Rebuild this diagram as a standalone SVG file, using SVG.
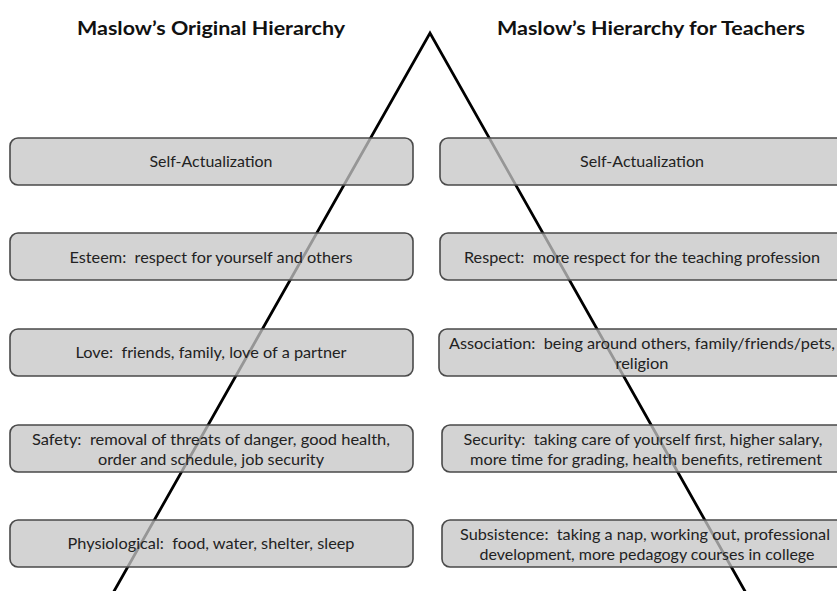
<svg xmlns="http://www.w3.org/2000/svg" width="837" height="591" viewBox="0 0 837 591">
<style>
text{white-space:pre}
.title{font-family:Lato,"Liberation Sans",sans-serif;font-weight:bold;font-size:19.5px;fill:#111;text-anchor:middle}
.box{fill:rgb(197,197,197);fill-opacity:0.76;stroke:#4a4a4a;stroke-width:1.6}
.lbl{font-family:Lato,"Liberation Sans",sans-serif;font-size:16px;fill:#222;text-anchor:middle}
.edge{fill:none;stroke:#000;stroke-width:2.8;stroke-linejoin:miter;stroke-miterlimit:20}
</style>
<rect width="837" height="591" fill="#fff"/>
<g id="titles">
<text class="title" x="211" y="35" textLength="268" lengthAdjust="spacingAndGlyphs">Maslow’s Original Hierarchy</text>
<text class="title" x="651" y="35" textLength="308" lengthAdjust="spacingAndGlyphs">Maslow’s Hierarchy for Teachers</text>
</g>
<g id="connectors">
<polyline class="edge" points="113,593 430,33 746,593"/>
</g>
<g id="left-self-actualization">
<rect class="box" x="10" y="138" width="403" height="47" rx="8"/>
<text class="lbl" x="211" y="167" textLength="123" lengthAdjust="spacingAndGlyphs">Self-Actualization</text>
</g>
<g id="left-esteem">
<rect class="box" x="10" y="233" width="403" height="47" rx="8"/>
<text class="lbl" x="211" y="263" textLength="283" lengthAdjust="spacingAndGlyphs">Esteem:  respect for yourself and others</text>
</g>
<g id="left-love">
<rect class="box" x="10" y="329" width="403" height="47" rx="8"/>
<text class="lbl" x="211" y="358" textLength="271" lengthAdjust="spacingAndGlyphs">Love:  friends, family, love of a partner</text>
</g>
<g id="left-safety">
<rect class="box" x="10" y="425" width="403" height="47" rx="8"/>
<text class="lbl" x="211" y="445" textLength="358" lengthAdjust="spacingAndGlyphs">Safety:  removal of threats of danger, good health,</text>
<text class="lbl" x="211" y="465" textLength="226" lengthAdjust="spacingAndGlyphs">order and schedule, job security</text>
</g>
<g id="left-physiological">
<rect class="box" x="10" y="520" width="403" height="47" rx="8"/>
<text class="lbl" x="211" y="549" textLength="287" lengthAdjust="spacingAndGlyphs">Physiological:  food, water, shelter, sleep</text>
</g>
<g id="right-self-actualization">
<rect class="box" x="440" y="138" width="404" height="47" rx="8"/>
<text class="lbl" x="642" y="167" textLength="124" lengthAdjust="spacingAndGlyphs">Self-Actualization</text>
</g>
<g id="right-respect">
<rect class="box" x="440" y="233" width="404" height="47" rx="8"/>
<text class="lbl" x="642" y="263" textLength="356" lengthAdjust="spacingAndGlyphs">Respect:  more respect for the teaching profession</text>
</g>
<g id="right-association">
<rect class="box" x="439" y="329" width="405" height="47" rx="8"/>
<text class="lbl" x="642" y="349" textLength="386" lengthAdjust="spacingAndGlyphs">Association:  being around others, family/friends/pets,</text>
<text class="lbl" x="642" y="369" textLength="53" lengthAdjust="spacingAndGlyphs">religion</text>
</g>
<g id="right-security">
<rect class="box" x="442" y="425" width="402" height="47" rx="8"/>
<text class="lbl" x="643" y="445" textLength="359" lengthAdjust="spacingAndGlyphs">Security:  taking care of yourself first, higher salary,</text>
<text class="lbl" x="646" y="465" textLength="352" lengthAdjust="spacingAndGlyphs">more time for grading, health benefits, retirement</text>
</g>
<g id="right-subsistence">
<rect class="box" x="442" y="520" width="402" height="47" rx="8"/>
<text class="lbl" x="645" y="540" textLength="370" lengthAdjust="spacingAndGlyphs">Subsistence:  taking a nap, working out, professional</text>
<text class="lbl" x="647" y="560" textLength="335" lengthAdjust="spacingAndGlyphs">development, more pedagogy courses in college</text>
</g>
</svg>
